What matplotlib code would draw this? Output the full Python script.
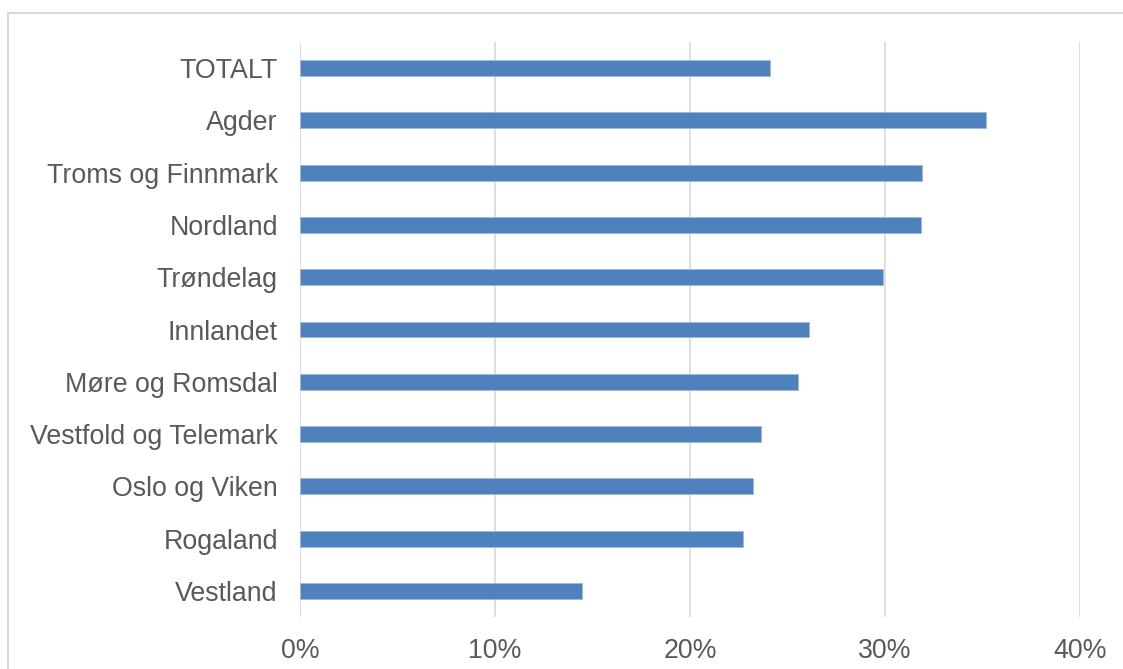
import matplotlib.pyplot as plt
from matplotlib.patches import Rectangle
from matplotlib.ticker import PercentFormatter

# regioner, ovenfra og ned
regioner = ['TOTALT', 'Agder', 'Troms og Finnmark', 'Nordland', 'Trøndelag',
            'Innlandet', 'Møre og Romsdal', 'Vestfold og Telemark',
            'Oslo og Viken', 'Rogaland', 'Vestland']
andel = [24.1, 35.2, 31.9, 31.85, 29.9, 26.1, 25.55, 23.65, 23.25, 22.7, 14.45]
x_ticks = [0, 10, 20, 30, 40]

plt.rcParams['font.family'] = ['Liberation Sans', 'DejaVu Sans']

fig = plt.figure(figsize=(11.23, 6.69), dpi=100)
ax = fig.add_axes([300 / 1123, 1 - 617 / 669, 780 / 1123, 575 / 669])

# ramme rundt hele figuren
fig.patches.append(Rectangle((7.5 / 1123, -0.1), 1.2, 1 - 13 / 669 + 0.1,
                             transform=fig.transFigure, fill=False,
                             edgecolor='#d9d9d9', linewidth=1.5))

pos = list(range(len(regioner)))
ax.barh(pos, andel, height=0.305, color='#4f81bd', edgecolor='#9fb8d8',
        linewidth=0.6, zorder=3)

ax.set_yticks(pos)
ax.set_yticklabels(regioner)
ax.set_ylim(len(regioner) - 0.5, -0.5)
ax.set_xlim(0, 40)
ax.set_xticks(x_ticks)
ax.xaxis.set_major_formatter(PercentFormatter(decimals=0))

ax.grid(axis='x', color='#d9d9d9', linewidth=1.2, zorder=0)
for s in ax.spines.values():
    s.set_visible(False)
ax.tick_params(axis='both', length=0, labelsize=19.3, labelcolor='#595959')
ax.tick_params(axis='y', pad=16)
ax.tick_params(axis='x', pad=15)

fig.savefig('out.png', dpi=100)
